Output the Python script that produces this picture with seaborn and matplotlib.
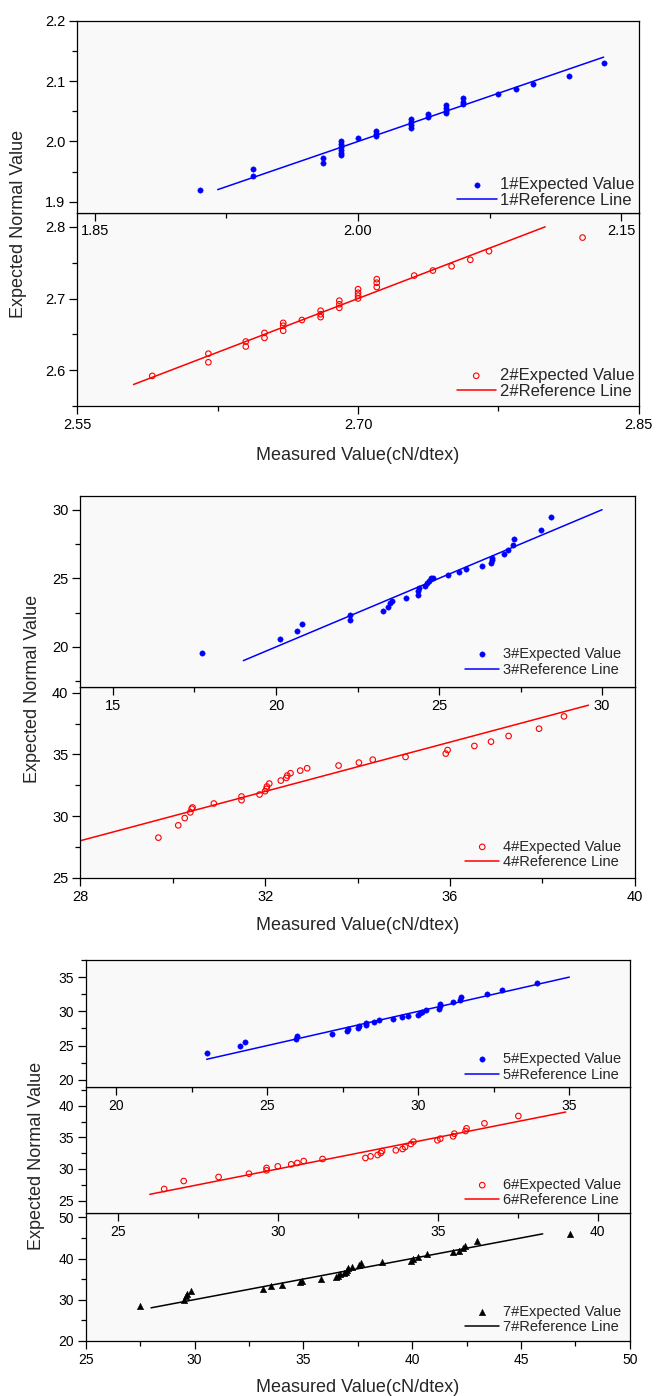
import numpy as np
import seaborn as sns
import matplotlib
matplotlib.use("Agg")
import matplotlib.pyplot as plt
from matplotlib.ticker import MultipleLocator, FixedLocator, FormatStrFormatter

# values
x1 = [1.91, 1.94, 1.94, 1.98, 1.98, 1.99, 1.99, 1.99, 1.99, 1.99, 1.99, 2.00,
      2.01, 2.01, 2.01, 2.03, 2.03, 2.03, 2.03, 2.04, 2.04, 2.05, 2.05, 2.05,
      2.05, 2.06, 2.06, 2.06, 2.08, 2.09, 2.10, 2.12, 2.14]
y1 = [1.920, 1.954, 1.942, 1.972, 1.964, 2.000, 1.995, 1.990, 1.985, 1.980,
      1.977, 2.005, 2.018, 2.013, 2.009, 2.038, 2.032, 2.027, 2.022, 2.045,
      2.040, 2.060, 2.055, 2.050, 2.048, 2.072, 2.066, 2.063, 2.078, 2.087,
      2.096, 2.109, 2.130]
ref1 = [1.92, 2.14]
xticks1 = [1.85, 2.00, 2.15]

x2 = [2.59, 2.62, 2.62, 2.64, 2.64, 2.65, 2.65, 2.66, 2.66, 2.66, 2.67, 2.68,
      2.68, 2.68, 2.69, 2.69, 2.69, 2.70, 2.70, 2.70, 2.70, 2.71, 2.71, 2.71,
      2.73, 2.74, 2.75, 2.76, 2.77, 2.82]
y2 = [2.592, 2.623, 2.611, 2.640, 2.633, 2.652, 2.645, 2.666, 2.662, 2.655,
      2.670, 2.683, 2.678, 2.674, 2.697, 2.692, 2.687, 2.713, 2.708, 2.704,
      2.700, 2.727, 2.722, 2.716, 2.732, 2.739, 2.745, 2.754, 2.766, 2.785]
ref2 = [2.58, 2.80]
xticks2 = [2.55, 2.70, 2.85]

x3 = [17.74, 20.12, 20.63, 20.81, 22.26, 22.26, 23.28, 23.42, 23.50, 23.56,
      23.99, 24.35, 24.37, 24.40, 24.58, 24.63, 24.68, 24.74, 24.82, 25.26,
      25.60, 25.82, 26.32, 26.59, 26.62, 26.63, 27.00, 27.13, 27.27, 27.31,
      28.14, 28.42]
y3 = [19.56, 20.56, 21.17, 21.65, 22.34, 21.97, 22.63, 22.94, 23.19, 23.38,
      23.58, 23.77, 24.04, 24.26, 24.45, 24.65, 24.84, 24.99, 25.04, 25.23,
      25.47, 25.69, 25.91, 26.13, 26.35, 26.50, 26.74, 27.06, 27.42, 27.88,
      28.49, 29.49]
ref3 = [19, 30]

x4 = [29.69, 30.12, 30.26, 30.38, 30.41, 30.43, 30.89, 31.49, 31.49, 31.88,
      32.00, 32.03, 32.04, 32.09, 32.34, 32.46, 32.48, 32.55, 32.76, 32.91,
      33.59, 34.03, 34.33, 35.04, 35.91, 35.95, 36.53, 36.89, 37.27, 37.93,
      38.47]
y4 = [28.25, 29.25, 29.84, 30.30, 30.60, 30.70, 31.02, 31.29, 31.59, 31.75,
      32.02, 32.21, 32.40, 32.64, 32.88, 33.10, 33.29, 33.48, 33.69, 33.88,
      34.10, 34.34, 34.58, 34.80, 35.07, 35.36, 35.69, 36.04, 36.50, 37.09,
      38.09]
ref4 = [28, 39]

x5 = [23.00, 24.09, 24.27, 25.95, 25.99, 27.16, 27.65, 27.68, 28.00, 28.04,
      28.26, 28.28, 28.55, 28.71, 29.17, 29.45, 29.65, 30.00, 30.06, 30.14,
      30.26, 30.70, 30.72, 30.73, 31.15, 31.38, 31.42, 32.27, 32.78, 33.93]
y5 = [23.88, 24.90, 25.58, 26.02, 26.41, 26.70, 27.09, 27.43, 27.57, 27.86,
      28.06, 28.35, 28.50, 28.69, 28.93, 29.17, 29.37, 29.51, 29.71, 29.95,
      30.24, 30.34, 30.73, 31.12, 31.31, 31.70, 32.04, 32.48, 33.10, 34.08]
ref5 = [23, 35]

x6 = [26.45, 27.06, 28.15, 29.10, 29.65, 29.65, 30.00, 30.42, 30.61, 30.81,
      31.40, 32.74, 32.90, 33.12, 33.22, 33.26, 33.69, 33.90, 33.98, 34.16,
      34.24, 34.99, 35.08, 35.48, 35.52, 35.87, 35.90, 36.46, 37.52]
y6 = [26.84, 28.10, 28.74, 29.26, 29.79, 30.16, 30.42, 30.74, 30.95, 31.26,
      31.58, 31.74, 32.00, 32.21, 32.53, 32.84, 32.95, 33.16, 33.47, 33.95,
      34.32, 34.53, 34.79, 35.16, 35.58, 36.00, 36.42, 37.21, 38.37]
ref6 = [26, 39]

x7 = [27.48, 29.51, 29.59, 29.66, 29.84, 33.16, 33.52, 34.02, 34.85, 34.96,
      35.79, 36.50, 36.61, 36.69, 36.88, 36.98, 37.01, 37.07, 37.25, 37.55,
      37.65, 38.63, 39.95, 40.03, 40.26, 40.70, 41.89, 42.14, 42.35, 42.43,
      43.00, 47.25]
y7 = [28.33, 29.96, 30.94, 31.43, 32.08, 32.57, 33.22, 33.63, 34.20, 34.53,
      35.10, 35.50, 35.84, 36.24, 36.49, 36.82, 37.22, 37.63, 37.96, 38.45,
      38.86, 39.18, 39.51, 39.76, 40.33, 41.14, 41.63, 41.88, 42.60, 43.02,
      44.16, 46.04]
ref7 = [28, 46]

sns.set_theme(style="ticks")
plt.rcParams["font.family"] = ["Liberation Sans", "DejaVu Sans"]
plt.rcParams["axes.linewidth"] = 0.9

W, H = 656, 1396
fig = plt.figure(figsize=(W / 100, H / 100), dpi=100)


def add_ax(l, r, t, b, z):
    ax = fig.add_axes([l / W, 1 - b / H, (r - l) / W, (b - t) / H])
    ax.set_zorder(z)
    ax.set_facecolor("#f9f9f9")
    for s in ax.spines.values():
        s.set_color("black")
    return ax


def style(ax, xlim, ylim, xmaj, ymaj, ymin, xfmt, yfmt, fs):
    ax.set_xlim(*xlim)
    ax.set_ylim(*ylim)
    if isinstance(xmaj, list):
        ax.xaxis.set_major_locator(FixedLocator(xmaj))
        mids = [(a + b) / 2 for a, b in zip(xmaj[:-1], xmaj[1:])]
        ax.xaxis.set_minor_locator(FixedLocator(mids))
    else:
        ax.xaxis.set_major_locator(MultipleLocator(xmaj))
        ax.xaxis.set_minor_locator(MultipleLocator(xmaj / 2))
    ax.yaxis.set_major_locator(MultipleLocator(ymaj))
    ax.yaxis.set_minor_locator(MultipleLocator(ymin))
    ax.xaxis.set_major_formatter(FormatStrFormatter(xfmt))
    ax.yaxis.set_major_formatter(FormatStrFormatter(yfmt))
    ax.tick_params(which="both", direction="out", top=False, right=False,
                   width=0.9, colors="black", labelsize=fs)
    ax.tick_params(which="major", length=6, pad=2.5)
    ax.tick_params(which="minor", length=3.5)
    ax.set_xlabel("")
    ax.set_ylabel("")


def draw(ax, x, y, ref, n, color, marker, s, hollow=False):
    if hollow:
        sns.scatterplot(x=x, y=y, ax=ax, marker=marker, s=s, fc="none",
                        ec=color, linewidth=0.8, label=f"{n}#Expected Value")
    else:
        sns.scatterplot(x=x, y=y, ax=ax, marker=marker, s=s, color=color,
                        edgecolor=color, linewidth=0.3,
                        label=f"{n}#Expected Value")
    sns.lineplot(x=ref, y=ref, ax=ax, color=color, linewidth=1.1,
                 label=f"{n}#Reference Line")


def legend(ax, right_px, row_px, fs, spacing):
    bb = ax.get_position()
    aw, ah = bb.width * W, bb.height * H
    fpx = fs * 100 / 72
    ax.legend(loc="lower right", frameon=False, fontsize=fs,
              bbox_to_anchor=(1 - right_px / aw, (row_px - 0.58 * fpx) / ah),
              borderpad=0, borderaxespad=0, handlelength=2.35,
              handletextpad=0.22, labelspacing=spacing)


# group 1
ax1 = add_ax(77.4, 638.7, 21, 212.5, 3)
ax2 = add_ax(77.4, 638.7, 212.5, 406, 2)
draw(ax1, x1, y1, ref1, 1, "#0000ff", "o", 15)
draw(ax2, x2, y2, ref2, 2, "#ff0000", "o", 16, hollow=True)
style(ax1, (1.84, 2.16), (1.882, 2.2), xticks1, 0.1, 0.05, "%.2f", "%.1f", 10.5)
style(ax2, (2.55, 2.85), (2.55, 2.82), xticks2, 0.1, 0.05, "%.2f", "%.1f", 10.5)
legend(ax1, 4, 14, 12, 0.05)
legend(ax2, 4.7, 16.7, 12, 0.05)

# group 2
ax3 = add_ax(80.3, 634.7, 496, 686.7, 3)
ax4 = add_ax(80.3, 634.7, 686.7, 877.7, 2)
draw(ax3, x3, y3, ref3, 3, "#0000ff", "o", 15)
draw(ax4, x4, y4, ref4, 4, "#ff0000", "o", 16, hollow=True)
style(ax3, (14, 31), (17.1, 31), 5, 5, 2.5, "%d", "%d", 10.5)
style(ax4, (28, 40), (25, 40.5), 4, 5, 2.5, "%d", "%d", 10.5)
legend(ax3, 14, 18.4, 10.5, 0.1)
legend(ax4, 14, 17, 10.5, 0.1)

# group 3
ax5 = add_ax(85.8, 629.7, 960, 1086.7, 4)
ax6 = add_ax(85.8, 629.7, 1086.7, 1213.3, 3)
ax7 = add_ax(85.8, 629.7, 1213.3, 1340.7, 2)
draw(ax5, x5, y5, ref5, 5, "#0000ff", "o", 15)
draw(ax6, x6, y6, ref6, 6, "#ff0000", "o", 16, hollow=True)
draw(ax7, x7, y7, ref7, 7, "black", "^", 22)
style(ax5, (19, 37), (19, 37.5), 5, 5, 2.5, "%d", "%d", 10)
style(ax6, (24, 41), (23, 43), 5, 5, 2.5, "%d", "%d", 10)
style(ax7, (25, 50), (20, 51), 5, 10, 5, "%d", "%d", 10)
legend(ax5, 9, 13.4, 10.5, 0.1)
legend(ax6, 9, 14.3, 10.5, 0.1)
legend(ax7, 9, 14.7, 10.5, 0.1)

# shared axis titles
for xp, yp in [(19, 224), (33, 689), (37, 1156)]:
    fig.text(xp / W, 1 - yp / H, "Expected Normal Value", rotation=90,
             ha="center", va="center", fontsize=13)
for xp, yp in [(358, 456), (357.5, 926), (358, 1388)]:
    fig.text(xp / W, 1 - yp / H, "Measured Value(cN/dtex)",
             ha="center", va="center", fontsize=13)

fig.savefig("out.png", dpi=100, facecolor="white")
